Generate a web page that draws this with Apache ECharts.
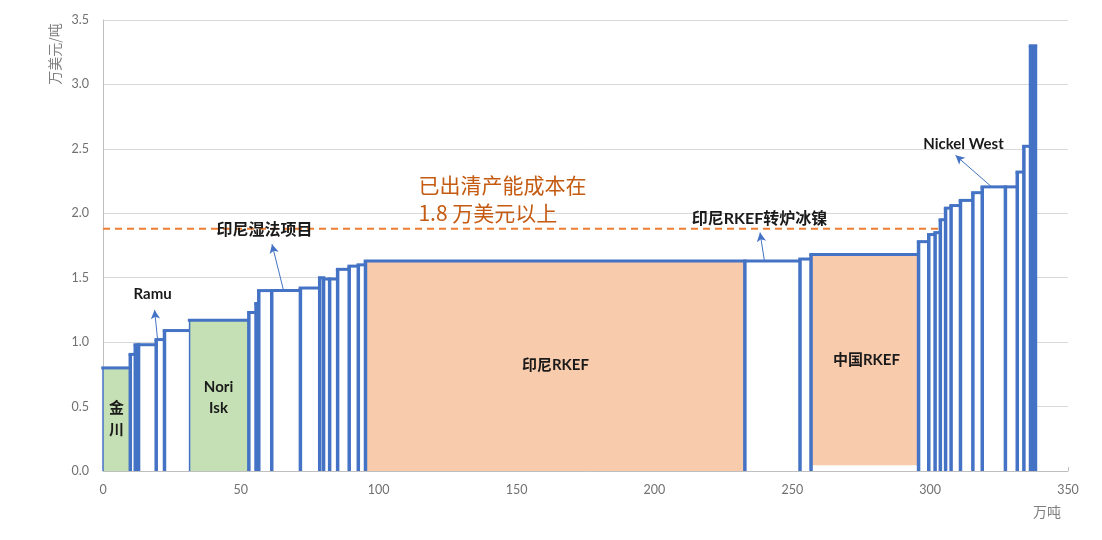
<!DOCTYPE html>
<html>
<head>
<meta charset="utf-8">
<script src="https://cdn.jsdelivr.net/npm/echarts@6/dist/echarts.min.js"></script>
<style>
  html, body { margin: 0; padding: 0; background: #ffffff; }
  #chart { width: 1102px; height: 540px; }
</style>
</head>
<body>
<div id="chart"></div>
<script>
// Nickel cost curve: each block is one producer, width = capacity (万吨), height = cost (万美元/吨)
const capacity = [9.9, 1.8, 1.2, 6.4, 3.0, 9.1, 21.5, 2.6, 1.0, 4.7, 10.4, 7.0, 1.4, 2.2, 2.9, 4.2, 3.3, 2.6,
                  137.6, 20.0, 4.0, 39.0, 3.7, 2.3, 1.9, 1.9, 2.0, 3.4, 4.5, 3.4, 8.4, 4.3, 2.4, 2.4, 1.8];
const cost = [0.80, 0.905, 0.98, 0.98, 1.02, 1.09, 1.17, 1.23, 1.30, 1.40, 1.40, 1.42, 1.50, 1.49, 1.49, 1.565, 1.59, 1.60,
              1.63, 1.63, 1.645, 1.68, 1.78, 1.835, 1.85, 1.95, 2.04, 2.06, 2.10, 2.16, 2.205, 2.205, 2.32, 2.52, 3.30];
const group = ['sulphide', 'other', 'other', 'other', 'other', 'other', 'sulphide', 'other', 'other', 'other', 'other',
               'other', 'other', 'other', 'other', 'other', 'other', 'other', 'rkefId', 'other', 'other', 'rkefCn',
               'other', 'other', 'other', 'other', 'other', 'other', 'other', 'other', 'other', 'other', 'other', 'other', 'peak'];

// Cost level above which capacity has already been cleared
const threshold = 1.88;
const thresholdSpan = [0, 310];

// Axis ticks
const xTicks = [0, 50, 100, 150, 200, 250, 300, 350];
const yTicks = [0, 0.5, 1.0, 1.5, 2.0, 2.5, 3.0, 3.5];

// Block labels, anchored in data units (capacity, cost)
const labelText = ['金\n川', 'Ramu', 'Nori\nIsk', '印尼湿法项目', '印尼RKEF', '中国RKEF', '印尼RKEF转炉冰镍', 'Nickel West'];
const labelAt = [[4.9, 0.40], [18.0, 1.37], [41.9, 0.57], [58.6, 1.87], [164.1, 0.82], [276.9, 0.86], [238.1, 1.96], [312.1, 2.54]];
const labelKind = ['cn', 'latin', 'latin', 'cnWide', 'latin', 'latin', 'cnWide', 'latin'];

// Orange note
const noteText = '已出清产能成本在\n1.8 万美元以上';
const noteAt = [114.4, 2.11];

// Callout arrows: [tail, head] in data units
const arrows = [
  [[19.8, 1.02], [18.7, 1.25]],
  [[65.5, 1.40], [61.3, 1.76]],
  [[239.9, 1.63], [238.3, 1.85]],
  [[322.3, 2.205], [309.2, 2.45]]
];

const EDGE = '#4472C4';
const EDGE_W = 3.5;
const GROUP_STYLE = {
  other:    { fill: '#ffffff', left: EDGE_W },
  sulphide: { fill: '#C5E0B4', left: 1.5 },
  rkefId:   { fill: '#F8CBAD', left: EDGE_W },
  rkefCn:   { fill: '#F8CBAD', left: EDGE_W, fillFrom: 0.045 },
  peak:     { fill: EDGE, left: EDGE_W }
};
const FONT = 'Lato, "Noto Sans CJK SC", sans-serif';
const LABEL_FONT = {
  latin:  'bold 15px ' + FONT,
  cn:     'bold 15px ' + FONT,
  cnWide: 'bold 16px ' + FONT
};
const LABEL_LINE = { latin: 21, cn: 22, cnWide: 20 };

// Build [start, end, cost] blocks from cumulative capacity
const blocks = [];
let acc = 0;
capacity.forEach((w, i) => {
  blocks.push([acc, acc + w, cost[i]]);
  acc += w;
});

function renderBlock(params, api) {
  const i = params.dataIndex;
  const st = GROUP_STYLE[group[i]];
  const bl = api.coord([api.value(0), 0]);
  const tr = api.coord([api.value(1), api.value(2)]);
  const fillBottom = api.coord([api.value(0), st.fillFrom || 0])[1];
  const half = EDGE_W / 2;
  const children = [
    { type: 'rect', shape: { x: bl[0], y: tr[1], width: tr[0] - bl[0], height: fillBottom - tr[1] },
      style: { fill: st.fill } },
    { type: 'line', shape: { x1: bl[0], y1: bl[1], x2: bl[0], y2: tr[1] },
      style: { stroke: EDGE, lineWidth: st.left } },
    { type: 'line', shape: { x1: bl[0] - half, y1: tr[1], x2: tr[0] + half, y2: tr[1] },
      style: { stroke: EDGE, lineWidth: 3 } }
  ];
  if (i === blocks.length - 1) {
    children.push({ type: 'line', shape: { x1: tr[0], y1: bl[1], x2: tr[0], y2: tr[1] },
      style: { stroke: EDGE, lineWidth: EDGE_W } });
  }
  return { type: 'group', children };
}

function renderLabel(params, api) {
  const i = params.dataIndex;
  const p = api.coord([api.value(0), api.value(1)]);
  const k = labelKind[i];
  return {
    type: 'text', x: p[0], y: p[1],
    style: { text: labelText[i], font: LABEL_FONT[k], fill: '#1a1a1a', align: 'center', verticalAlign: 'middle',
             lineHeight: LABEL_LINE[k] }
  };
}

function renderNote(params, api) {
  const p = api.coord([api.value(0), api.value(1)]);
  return {
    type: 'text', x: p[0], y: p[1],
    style: { text: noteText, font: '21px "Noto Sans CJK SC", sans-serif', fill: '#C55A11',
             align: 'left', verticalAlign: 'middle', lineHeight: 28 }
  };
}

const chart = echarts.init(document.getElementById('chart'));
chart.setOption({
  animation: false,
  backgroundColor: '#ffffff',
  grid: { left: 103, right: 34, top: 20, bottom: 69 },
  xAxis: {
    type: 'value', min: xTicks[0], max: xTicks[xTicks.length - 1], interval: 50,
    axisLine: { lineStyle: { color: '#BFBFBF', width: 1 } },
    axisTick: { show: true, inside: true, length: 4, lineStyle: { color: '#BFBFBF' } },
    axisLabel: { color: '#707070', fontSize: 12.5, fontFamily: FONT, margin: 13 },
    splitLine: { show: false }
  },
  yAxis: {
    type: 'value', min: yTicks[0], max: yTicks[yTicks.length - 1], interval: 0.5,
    axisLine: { show: true, lineStyle: { color: '#BFBFBF', width: 1 } },
    axisTick: { show: false },
    axisLabel: { color: '#707070', fontSize: 12.5, fontFamily: FONT, margin: 14, formatter: v => v.toFixed(1) },
    splitLine: { lineStyle: { color: '#D9D9D9', width: 1 } }
  },
  graphic: [
    { type: 'text', x: 55, y: 54, rotation: Math.PI / 2,
      style: { text: '万美元/吨', font: '14px "Noto Sans CJK SC", sans-serif', fill: '#7F7F7F', align: 'center', verticalAlign: 'middle' } },
    { type: 'text', x: 1047, y: 512,
      style: { text: '万吨', font: '14px "Noto Sans CJK SC", sans-serif', fill: '#7F7F7F', align: 'center', verticalAlign: 'middle' } }
  ],
  series: [
    {
      type: 'line', z: 1, symbol: 'none', silent: true,
      data: [[thresholdSpan[0], threshold], [thresholdSpan[1], threshold]],
      lineStyle: { color: '#ED7D31', width: 2, type: [7, 5] }
    },
    {
      type: 'custom', z: 2, silent: true,
      encode: { x: [0, 1], y: 2 },
      renderItem: renderBlock,
      data: blocks
    },
    {
      type: 'custom', z: 3, silent: true,
      encode: { x: 0, y: 1 },
      renderItem: renderLabel,
      data: labelAt,
      markLine: {
        silent: true, symbol: ['none', 'arrow'], symbolSize: [7, 9],
        label: { show: false },
        lineStyle: { color: EDGE, width: 1, type: 'solid' },
        data: arrows.map(a => [{ coord: a[0] }, { coord: a[1] }])
      }
    },
    {
      type: 'custom', z: 3, silent: true,
      encode: { x: 0, y: 1 },
      renderItem: renderNote,
      data: [noteAt]
    }
  ]
});
</script>
</body>
</html>
